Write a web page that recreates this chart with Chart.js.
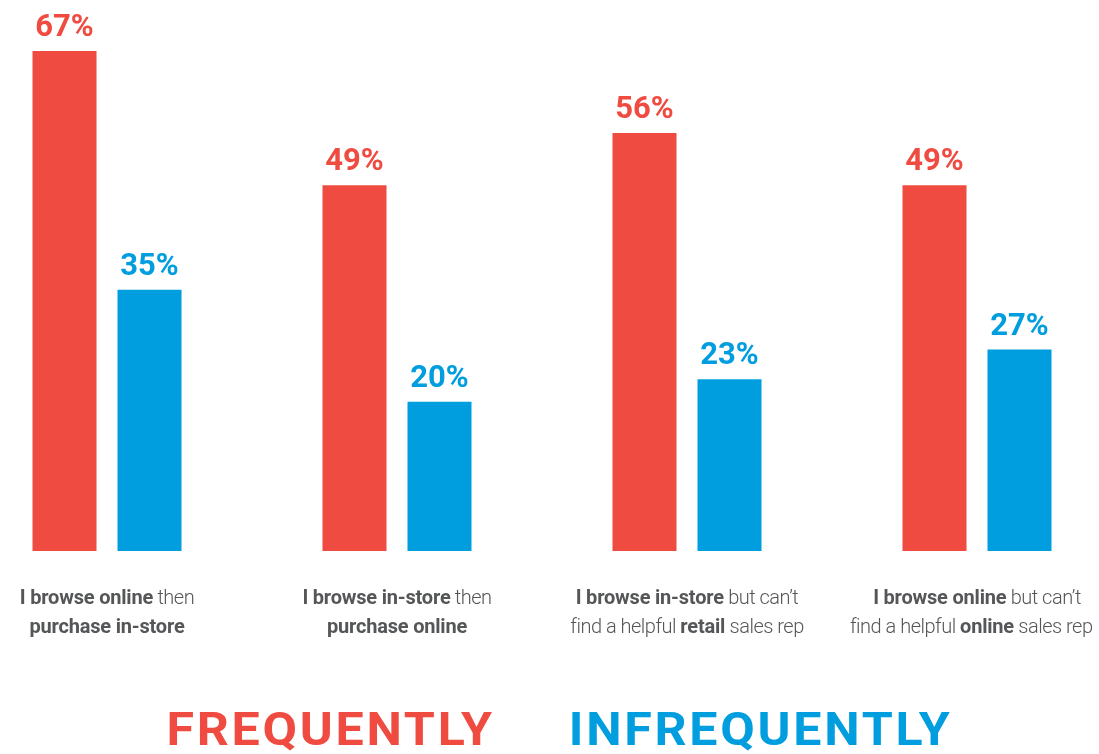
<!DOCTYPE html>
<html>
<head>
<meta charset="utf-8">
<script src="https://cdn.jsdelivr.net/npm/chart.js@4"></script>
<style>
  html, body { margin: 0; padding: 0; background: #fff; overflow: hidden; }
  body { width: 1099px; height: 754px; position: relative; }
  #wrap { position: absolute; left: -38.5px; top: 0; width: 1160px; height: 754px; }
</style>
</head>
<body>
<div id="wrap"><canvas id="chart"></canvas></div>
<script>
// Survey answers, one group per behaviour
const categories = ['online-then-store', 'store-then-online', 'store-no-rep', 'online-no-rep'];
// Two-line captions under each group; **text** marks the bold runs
const captionLines = [
  ['**I browse online** then', '**purchase in-store**'],
  ['**I browse in-store** then', '**purchase online**'],
  ['**I browse in-store** but can\u2019t', 'find a helpful **retail** sales rep'],
  ['**I browse online** but can\u2019t', 'find a helpful **online** sales rep']
];
const seriesNames = ['FREQUENTLY', 'INFREQUENTLY'];
const frequently = [67, 49, 56, 49];
const infrequently = [35, 20, 23, 27];

const RED = '#EF4B41';
const BLUE = '#009DDF';
const GREY = '#555658';
const FONT = 'Roboto';
const CANVAS_SHIFT = 38.5;   // canvas sits this far left of the page edge
const PAGE_WIDTH = 1099;

function parseRuns(line) {
  const parts = line.split('**');
  return parts.map((t, i) => ({ text: t, bold: i % 2 === 1 })).filter(r => r.text.length);
}

function setRunFont(ctx, bold) {
  ctx.font = `${bold ? 'bold' : '300'} 20px ${FONT}`;
  ctx.letterSpacing = bold ? '-0.2px' : '-0.5px';
}

const valueLabels = {
  id: 'valueLabels',
  afterDatasetsDraw(chart) {
    const ctx = chart.ctx;
    ctx.save();
    ctx.textAlign = 'center';
    ctx.textBaseline = 'alphabetic';
    ctx.font = `bold 31px ${FONT}`;
    ctx.letterSpacing = '0px';
    chart.data.datasets.forEach((ds, di) => {
      const meta = chart.getDatasetMeta(di);
      meta.data.forEach((bar, i) => {
        ctx.fillStyle = ds.backgroundColor;
        ctx.fillText(ds.data[i] + '%', bar.x, bar.y - 15);
      });
    });
    ctx.restore();
  }
};

const captions = {
  id: 'captions',
  afterDraw(chart) {
    const ctx = chart.ctx;
    const xs = chart.scales.x;
    ctx.save();
    ctx.textBaseline = 'alphabetic';
    ctx.fillStyle = GREY;
    const minX = CANVAS_SHIFT + 7;
    const maxX = CANVAS_SHIFT + PAGE_WIDTH - 7;
    captionLines.forEach((lines, i) => {
      const cx = xs.getPixelForValue(i);
      lines.forEach((line, li) => {
        const runs = parseRuns(line);
        const widths = runs.map(r => { setRunFont(ctx, r.bold); return ctx.measureText(r.text).width; });
        const total = widths.reduce((a, b) => a + b, 0);
        let x = cx - total / 2;
        // keep captions inside the visible page
        if (x + total > maxX) x = maxX - total;
        if (x < minX) x = minX;
        const y = chart.chartArea.bottom + 53 + li * 29;
        runs.forEach((r, ri) => {
          setRunFont(ctx, r.bold);
          ctx.fillText(r.text, x, y);
          x += widths[ri];
        });
      });
    });
    ctx.restore();
  }
};

// Large coloured series names along the bottom, drawn in a wide display style
const seriesKey = {
  id: 'seriesKey',
  afterDraw(chart) {
    const ctx = chart.ctx;
    const stretch = 1.09;
    ctx.save();
    ctx.font = `bold 46px ${FONT}`;
    ctx.letterSpacing = '2.5px';
    ctx.textBaseline = 'alphabetic';
    ctx.textAlign = 'left';
    const gap = 74;
    const names = chart.data.datasets.map(d => d.label);
    const widths = names.map(n => ctx.measureText(n).width * stretch);
    const total = widths[0] + widths[1] + gap;
    let x = CANVAS_SHIFT + 559 - total / 2;
    names.forEach((n, i) => {
      ctx.save();
      ctx.translate(x, 745);
      ctx.scale(stretch, 1);
      ctx.fillStyle = chart.data.datasets[i].backgroundColor;
      ctx.fillText(n, 0, 0);
      ctx.restore();
      x += widths[i] + gap;
    });
    ctx.restore();
  }
};

new Chart(document.getElementById('chart'), {
  type: 'bar',
  data: {
    labels: categories,
    datasets: [
      { label: seriesNames[0], data: frequently, backgroundColor: RED },
      { label: seriesNames[1], data: infrequently, backgroundColor: BLUE }
    ]
  },
  options: {
    responsive: true,
    maintainAspectRatio: false,
    animation: false,
    layout: { padding: { top: 51, bottom: 203, left: 0, right: 0 } },
    datasets: { bar: { categoryPercentage: 0.5862, barPercentage: 0.753, borderWidth: 0 } },
    scales: {
      x: { display: false },
      y: { display: false, min: 0, max: 67 }
    },
    plugins: { legend: { display: false }, tooltip: { enabled: false } }
  },
  plugins: [valueLabels, captions, seriesKey]
});
</script>
</body>
</html>
